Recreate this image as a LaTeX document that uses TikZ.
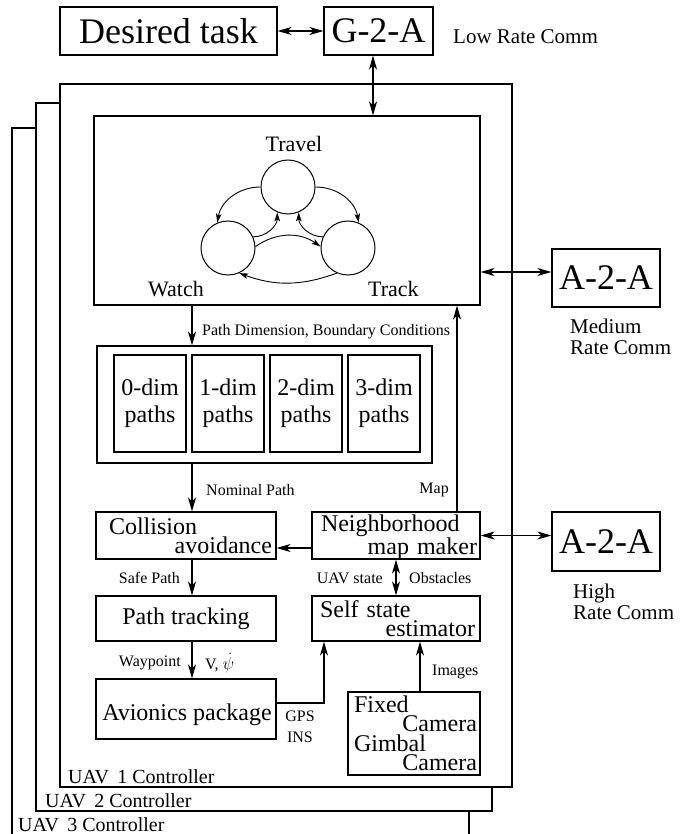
\documentclass[tikz,border=0pt]{standalone}
\usepackage{fontspec}
\setmainfont{Liberation Serif}
\usetikzlibrary{arrows.meta,calc}

% type sizes used in the diagram
\newcommand\szhuge{\fontsize{36}{40}\selectfont}
\newcommand\szbox{\fontsize{24}{19}\selectfont}
\newcommand\szcam{\fontsize{24}{19.5}\selectfont}
\newcommand\szpath{\fontsize{24}{27}\selectfont}
\newcommand\szstate{\fontsize{22}{26}\selectfont}
\newcommand\szcomm{\fontsize{21}{21}\selectfont}
\newcommand\szlab{\fontsize{16}{21}\selectfont}
\newcommand\szuav{\fontsize{20}{24}\selectfont}
\newcommand\flushr{\hspace*{0pt plus 1filll}}

\begin{document}
\begin{tikzpicture}[x=1pt,y=1pt,
  box/.style={draw, line width=1.1pt, rectangle, inner sep=0pt},
  txt/.style={inner sep=0pt, align=left},
  lab/.style={font=\szlab, inner sep=0pt},
  arr/.style={line width=1.1pt, -{Stealth[length=14pt,width=8pt,inset=4pt]}},
  darr/.style={line width=1.1pt, {Stealth[length=14pt,width=8pt,inset=4pt]}-{Stealth[length=14pt,width=8pt,inset=4pt]}},
  state/.style={draw, circle, line width=1pt, minimum size=54pt, inner sep=0pt},
  sarr/.style={line width=0.9pt, -{Stealth[length=9pt,width=5.5pt,inset=2pt]}},
  frame/.style={box, fill=white}]

\fill[white] (0,0) rectangle (689,-834);
\useasboundingbox (0,0) rectangle (689,-834);

% stacked controller frames, back to front
\draw[line width=1.1pt] (12,-834) |- (469,-128) -- (469,-834);
\node[frame, minimum width=456, minimum height=708] (uav2) at (264,-457) {};
\node[frame, minimum width=452, minimum height=703] (uav1) at (286,-435.5) {};
\node[font=\szuav, anchor=base west, inner sep=0pt] (uav1lab) at (68,-783) {UAV\, 1 Controller};
\node[font=\szuav, anchor=base west, inner sep=0pt] (uav2lab) at (45,-807) {UAV\, 2 Controller};
\node[font=\szuav, anchor=base west, inner sep=0pt] (uav3lab) at (18,-831) {UAV\, 3 Controller};

% ground link
\node[box, minimum width=217, minimum height=48, font=\szhuge] (task) at (168.5,-31) {Desired task};
\node[box, minimum width=109, minimum height=48, font=\szhuge] (g2a) at (378.5,-31) {G-2-A};
\node[font=\szcomm, anchor=base west, inner sep=0pt] (lowrate) at (453,-44) {Low Rate Comm};
\draw[darr] (task.east) -- (g2a.west);

% mode switching
\node[box, minimum width=386, minimum height=189] (sm) at (287,-210.5) {};
\coordinate (g2aport) at ([xshift=-5.5]g2a.south);
\draw[darr] (g2aport) -- (g2aport |- sm.north);

\node[state] (travel) at (288,-187) {};
\node[state] (watch) at (228,-248) {};
\node[state] (track) at (348,-248) {};
\node[font=\szstate, anchor=base, inner sep=0pt] (travellab) at (294,-152) {Travel};
\node[font=\szstate, anchor=base east, inner sep=0pt] (watchlab) at (204,-296) {Watch};
\node[font=\szstate, anchor=base west, inner sep=0pt] (tracklab) at (368,-296) {Track};

\draw[sarr] (travel.west) to[out=180,in=80] (watch.113);
\draw[sarr] (travel.east) to[out=0,in=100] (track.67);
\draw[sarr] (watch.24) to[out=0,in=-90] (travel.247);
\draw[sarr] (track.156) to[out=180,in=-90] (travel.293);
\draw[sarr] (watch.3) to[out=35,in=145] (track.177);
\draw[sarr] (track.246) to[out=200,in=-20] (watch.294);

% medium rate link
\node[box, minimum width=108, minimum height=58, font=\szhuge] (a2amed) at (606,-278) {A-2-A};
\coordinate (medport) at ([yshift=6]a2amed.west);
\draw[darr] (sm.east |- medport) -- (medport);
\node[font=\szcomm, align=left, anchor=north west, inner sep=0pt] (medlab) at (570,-318.5) {Medium\\Rate Comm};

% path library
\coordinate (spine) at (192,0);
\node[box, minimum width=335, minimum height=117] (paths) at (264.5,-404.5) {};
\draw[arr] (spine |- sm.south) -- (spine |- paths.north);
\node[lab, anchor=west] (pdlab) at (202,-332) {Path Dimension, Boundary Conditions};
\node[box, minimum width=72, minimum height=97, font=\szpath, align=center] (dim0) at (150,-403.5) {0-dim\\paths};
\node[box, minimum width=72, minimum height=97, font=\szpath, align=center] (dim1) at (228,-403.5) {1-dim\\paths};
\node[box, minimum width=72, minimum height=97, font=\szpath, align=center] (dim2) at (306,-403.5) {2-dim\\paths};
\node[box, minimum width=72, minimum height=97, font=\szpath, align=center] (dim3) at (384,-403.5) {3-dim\\paths};

% guidance chain
\node[box, minimum width=180, minimum height=47] (coll) at (186,-535.5) {};
\node[txt, font=\szbox, text width=163] (colltext) at ([xshift=4.5]coll.center) {Collision\\\flushr avoidance};
\node[box, minimum width=168, minimum height=47] (neigh) at (396,-535.5) {};
\node[txt, font=\szbox, text width=156] (neightext) at ([xshift=3,yshift=-2]neigh.center) {Neighborhood\\\flushr map maker};
\draw[arr] (spine |- paths.south) -- (spine |- coll.north);
\node[lab, anchor=west] (nomlab) at (206,-490) {Nominal Path};

\coordinate (mapx) at (457,0);
\draw[arr] (mapx |- neigh.north) -- (mapx |- sm.south);
\node[lab, anchor=east] (maplab) at (449,-490) {Map};
\draw[arr] ([yshift=-12.5]neigh.west) -- ([yshift=-12.5]coll.east);

% high rate link
\node[box, minimum width=108, minimum height=59, font=\szhuge] (a2ahigh) at (606,-541.5) {A-2-A};
\draw[darr] (neigh.east) -- (neigh.east -| a2ahigh.west);
\node[font=\szcomm, align=left, anchor=north west, inner sep=0pt] (highlab) at (573,-583.5) {High\\Rate Comm};

\node[box, minimum width=180, minimum height=45, font=\szbox] (ptrack) at (186,-618.5) {Path tracking};
\draw[arr] (spine |- coll.south) -- (spine |- ptrack.north);
\node[lab, anchor=east] (safelab) at (180,-578) {Safe Path};

\node[box, minimum width=168, minimum height=45] (self) at (396,-618.5) {};
\node[txt, font=\szbox, text width=155] (selftext) at ([xshift=1.5]self.center) {Self state\\\flushr estimator};
\draw[darr] (neigh.south) -- (self.north);
\node[lab, anchor=east] (uavstatelab) at (383,-578) {UAV state};
\node[lab, anchor=west] (obstlab) at (409,-578) {Obstacles};

% vehicle side
\node[box, minimum width=180, minimum height=60] (avion) at (186,-709) {};
\node[font=\szbox, anchor=base, inner sep=0pt] (aviontext) at (187,-720) {Avionics package};
\draw[arr] (spine |- ptrack.south) -- (spine |- avion.north);
\node[lab, anchor=east] (waylab) at (181,-663) {Waypoint};
\node[lab, anchor=west] (vlab) at (205,-663) {V, $\dot{\psi}$};

\draw[arr] ([yshift=6]avion.east) -| ([xshift=-72]self.south);
\node[lab, align=center] (gpslab) at (300,-727) {GPS\\INS};

\node[box, minimum width=132, minimum height=83] (cam) at (414,-733.5) {};
\node[txt, font=\szcam, text width=123] (camtext) at ([xshift=1.5]cam.center) {Fixed\\\flushr Camera\\Gimbal\\\flushr Camera};
\coordinate (camport) at ([xshift=6]cam.north);
\draw[arr] (camport) -- (camport |- self.south);
\node[lab, anchor=west] (imglab) at (432,-672) {Images};

\end{tikzpicture}
\end{document}
